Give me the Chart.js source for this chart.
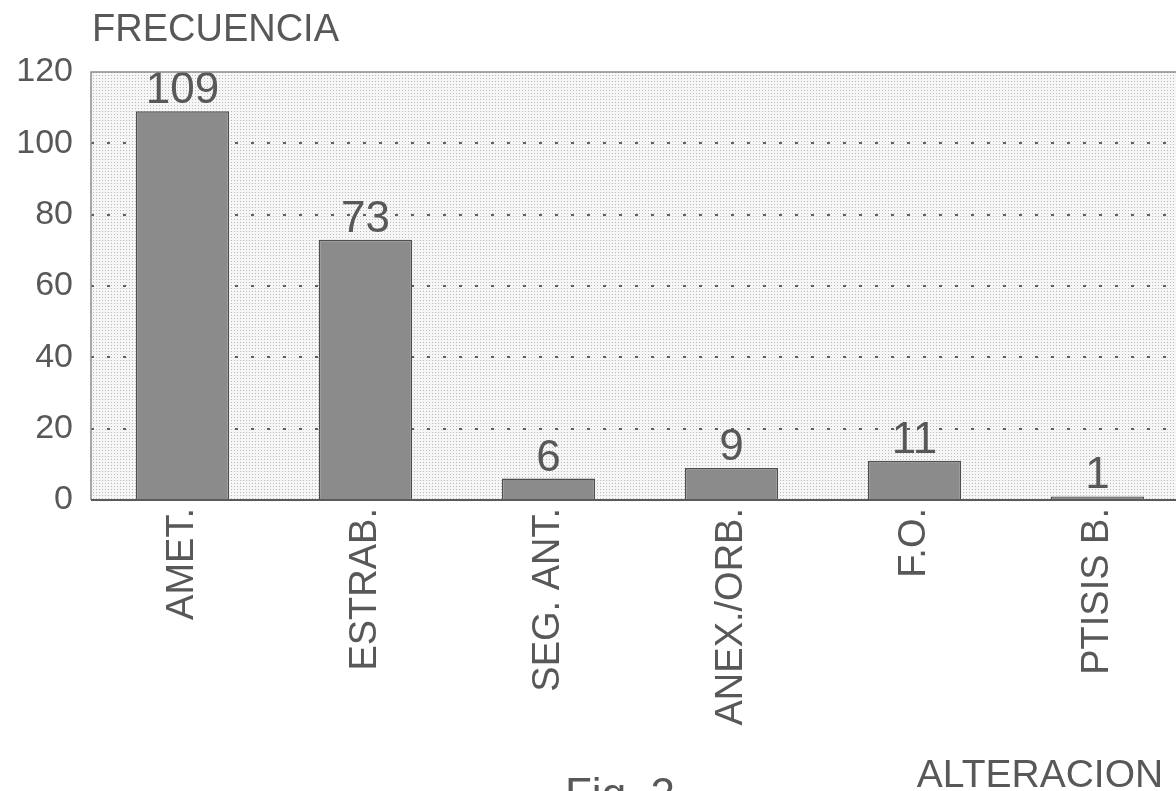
<!DOCTYPE html>
<html>
<head>
<meta charset="utf-8">
<title>Frecuencia por alteración</title>
<script src="https://cdn.jsdelivr.net/npm/chart.js@4.4.1/dist/chart.umd.min.js"></script>
<style>
  html, body { margin: 0; padding: 0; background: #fff; overflow: hidden; }
  #wrap { width: 1190px; height: 791px; }
</style>
</head>
<body>
<div id="wrap"><canvas id="freqChart" width="1190" height="791"></canvas></div>
<script>
const categories = ['AMET.', 'ESTRAB.', 'SEG. ANT.', 'ANEX./ORB.', 'F.O.', 'PTISIS B.'];
const frequencies = [109, 73, 6, 9, 11, 1];
const yTicks = [0, 20, 40, 60, 80, 100, 120];

const textGray = '#585858';
const fontFamily = '"Liberation Sans", Arial, Helvetica, sans-serif';

// dotted screen behind the bars
function makeDots() {
    const c = document.createElement('canvas');
    c.width = 3; c.height = 3;
    const g = c.getContext('2d');
    g.fillStyle = '#f6f6f6';
    g.fillRect(0, 0, 3, 3);
    g.fillStyle = '#bababa';
    g.fillRect(0, 0, 1, 1);
    return c;
}

const backdrop = {
    id: 'backdrop',
    beforeDraw(chart) {
        const { ctx, chartArea: a } = chart;
        ctx.save();
        ctx.fillStyle = ctx.createPattern(makeDots(), 'repeat');
        ctx.fillRect(a.left, a.top, a.right - a.left, a.bottom - a.top);
        ctx.restore();
    },
    afterDraw(chart) {
        const { ctx, chartArea: a } = chart;
        ctx.save();
        ctx.strokeStyle = '#8a8a8a';
        ctx.lineWidth = 1.5;
        ctx.beginPath();
        ctx.moveTo(a.left, a.bottom);
        ctx.lineTo(a.left, a.top);
        ctx.lineTo(a.right, a.top);
        ctx.stroke();
        ctx.strokeStyle = '#5a5a5a';
        ctx.lineWidth = 2;
        ctx.beginPath();
        ctx.moveTo(a.left, a.bottom);
        ctx.lineTo(a.right, a.bottom);
        ctx.stroke();

        ctx.fillStyle = textGray;
        ctx.textBaseline = 'alphabetic';
        ctx.font = '38px ' + fontFamily;
        ctx.textAlign = 'left';
        ctx.fillText('FRECUENCIA', 92, 41);
        ctx.font = '39px ' + fontFamily;
        ctx.textAlign = 'center';
        ctx.fillText('ALTERACION', 1040, 787);
        ctx.font = '44px ' + fontFamily;
        ctx.fillText('Fig. 2', 620, 809);
        ctx.restore();
    }
};

const valueLabels = {
    id: 'valueLabels',
    afterDatasetsDraw(chart) {
        const { ctx } = chart;
        const meta = chart.getDatasetMeta(0);
        ctx.save();
        ctx.fillStyle = textGray;
        ctx.font = '44px ' + fontFamily;
        ctx.textAlign = 'center';
        ctx.textBaseline = 'alphabetic';
        meta.data.forEach((bar, i) => {
            ctx.fillText(String(frequencies[i]), bar.x, bar.y - 8);
        });
        ctx.restore();
    }
};

new Chart(document.getElementById('freqChart').getContext('2d'), {
    type: 'bar',
    data: {
        labels: categories,
        datasets: [{
            label: 'FRECUENCIA',
            data: frequencies,
            backgroundColor: '#8b8b8b',
            borderColor: '#4e4e4e',
            borderWidth: 1.5,
            barPercentage: 0.51,
            categoryPercentage: 1
        }]
    },
    options: {
        responsive: false,
        animation: false,
        layout: { padding: { top: 72, right: 1, left: 0, bottom: 0 } },
        plugins: {
            legend: { display: false },
            tooltip: { enabled: false }
        },
        scales: {
            x: {
                grid: { display: false, drawTicks: false },
                border: { display: false },
                afterFit(scale) { scale.height = 291; },
                ticks: {
                    color: textGray,
                    font: { family: fontFamily, size: 38 },
                    minRotation: 90,
                    maxRotation: 90,
                    padding: 8
                }
            },
            y: {
                min: 0,
                max: 120,
                afterFit(scale) { scale.width = 91; },
                afterBuildTicks(scale) { scale.ticks = yTicks.map(v => ({ value: v })); },
                grid: {
                    drawTicks: false,
                    lineWidth: 2,
                    color: c => (c.tick.value === 0 || c.tick.value === 120) ? 'rgba(0,0,0,0)' : '#606060'
                },
                border: { display: false, dash: [3, 13] },
                ticks: {
                    color: textGray,
                    font: { family: fontFamily, size: 34 },
                    padding: 18
                }
            }
        }
    },
    plugins: [backdrop, valueLabels]
});
</script>
</body>
</html>
